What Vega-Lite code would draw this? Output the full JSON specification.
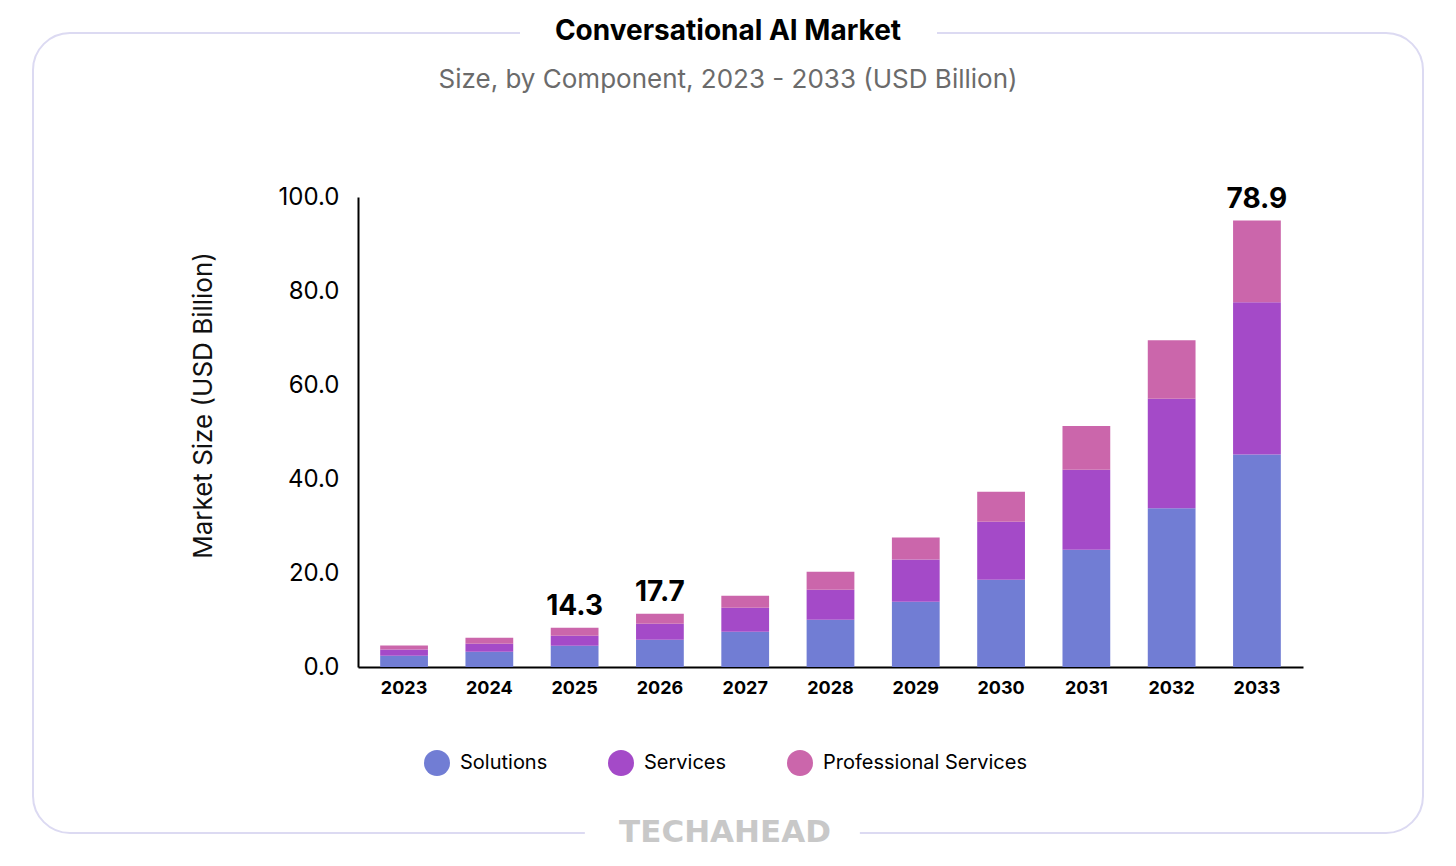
{
  "$schema": "https://vega.github.io/schema/vega-lite/v6.json",
  "autosize": {"type": "none"},
  "padding": {"left": 33, "top": 33, "right": 33, "bottom": 33},
  "width": 1390,
  "height": 800,
  "background": "white",
  "title": {
    "text": "Conversational AI Market",
    "subtitle": "Size, by Component, 2023 - 2033 (USD Billion)",
    "anchor": "middle",
    "frame": "group",
    "offset": -60,
    "font": "Inter",
    "fontSize": 28,
    "fontWeight": "bold",
    "color": "#000000",
    "subtitleFont": "Inter",
    "subtitleFontSize": 26,
    "subtitleColor": "#6b6b6b",
    "subtitlePadding": 21
  },
  "config": {
    "font": "Inter",
    "view": {
      "stroke": "#dcdaf2",
      "strokeWidth": 2,
      "cornerRadius": 37,
      "strokeDash": [450, 417, 1817.2, 275, 1357.3, 0]
    }
  },
  "data": {
    "values": [
      {"year": "2023", "component": "Solutions", "value": 2.4},
      {"year": "2023", "component": "Services", "value": 1.3},
      {"year": "2023", "component": "Professional Services", "value": 0.85},
      {"year": "2024", "component": "Solutions", "value": 3.25},
      {"year": "2024", "component": "Services", "value": 1.7},
      {"year": "2024", "component": "Professional Services", "value": 1.27},
      {"year": "2025", "component": "Solutions", "value": 4.5},
      {"year": "2025", "component": "Services", "value": 2.15},
      {"year": "2025", "component": "Professional Services", "value": 1.7, "label": "14.3"},
      {"year": "2026", "component": "Solutions", "value": 5.8},
      {"year": "2026", "component": "Services", "value": 3.4},
      {"year": "2026", "component": "Professional Services", "value": 2.13, "label": "17.7"},
      {"year": "2027", "component": "Solutions", "value": 7.5},
      {"year": "2027", "component": "Services", "value": 5.1},
      {"year": "2027", "component": "Professional Services", "value": 2.55},
      {"year": "2028", "component": "Solutions", "value": 10.05},
      {"year": "2028", "component": "Services", "value": 6.4},
      {"year": "2028", "component": "Professional Services", "value": 3.83},
      {"year": "2029", "component": "Solutions", "value": 13.9},
      {"year": "2029", "component": "Services", "value": 8.95},
      {"year": "2029", "component": "Professional Services", "value": 4.7},
      {"year": "2030", "component": "Solutions", "value": 18.55},
      {"year": "2030", "component": "Services", "value": 12.35},
      {"year": "2030", "component": "Professional Services", "value": 6.4},
      {"year": "2031", "component": "Solutions", "value": 24.95},
      {"year": "2031", "component": "Services", "value": 17.0},
      {"year": "2031", "component": "Professional Services", "value": 9.35},
      {"year": "2032", "component": "Solutions", "value": 33.8},
      {"year": "2032", "component": "Services", "value": 23.3},
      {"year": "2032", "component": "Professional Services", "value": 12.4},
      {"year": "2033", "component": "Solutions", "value": 45.2},
      {"year": "2033", "component": "Services", "value": 32.4},
      {"year": "2033", "component": "Professional Services", "value": 17.4, "label": "78.9"}
    ]
  },
  "layer": [
    {
      "mark": {"type": "bar"},
      "encoding": {
        "x": {
          "field": "year",
          "type": "ordinal",
          "scale": {"range": [325, 1270], "paddingInner": 0.44, "paddingOuter": 0.26},
          "axis": {
            "orient": "bottom",
            "offset": -166,
            "title": null,
            "ticks": false,
            "labelAngle": 0,
            "domainColor": "#000000",
            "domainWidth": 2,
            "labelFont": "Inter",
            "labelFontSize": 18,
            "labelFontWeight": "bold",
            "labelColor": "#000000",
            "labelPadding": 12
          }
        },
        "y": {
          "field": "value",
          "type": "quantitative",
          "stack": "zero",
          "scale": {"domain": [0, 100], "range": [634, 164], "nice": false},
          "axis": {
            "orient": "left",
            "offset": -325,
            "values": [0, 20, 40, 60, 80, 100],
            "format": ".1f",
            "grid": false,
            "ticks": false,
            "domainColor": "#000000",
            "domainWidth": 2,
            "labelFont": "Inter",
            "labelFontSize": 24,
            "labelColor": "#000000",
            "labelPadding": 19,
            "title": "Market Size (USD Billion)",
            "titleFont": "Inter",
            "titleFontSize": 26,
            "titleFontWeight": "normal",
            "titleColor": "#111111",
            "titlePadding": 62,
            "titleY": 372
          }
        },
        "color": {
          "field": "component",
          "type": "nominal",
          "scale": {
            "domain": ["Solutions", "Services", "Professional Services"],
            "range": ["#717dd4", "#a44ac8", "#cb66ab"]
          },
          "legend": {
            "orient": "none",
            "legendX": 391,
            "legendY": 717,
            "direction": "horizontal",
            "symbolType": "circle",
            "symbolSize": 676,
            "symbolStrokeWidth": 0,
            "symbolOpacity": 1,
            "labelFont": "Inter",
            "labelFontSize": 20,
            "labelColor": "#000000",
            "labelOffset": 10,
            "labelLimit": 400,
            "columnPadding": 60,
            "title": "TECHAHEAD",
            "titleOrient": "bottom",
            "titleAnchor": "middle",
            "titleLimit": 600,
            "titleFont": "DejaVu Sans",
            "titleFontSize": 31,
            "titleFontWeight": "bold",
            "titleColor": "#c8c8c8",
            "titlePadding": 42
          }
        },
        "order": {"value": null}
      }
    },
    {
      "transform": [
        {"joinaggregate": [{"op": "sum", "field": "value", "as": "total"}], "groupby": ["year"]},
        {"filter": "isValid(datum.label)"}
      ],
      "mark": {"type": "text", "baseline": "bottom", "dy": -7, "font": "Inter", "fontSize": 28, "fontWeight": "bold", "color": "#000000"},
      "encoding": {
        "x": {"field": "year", "type": "ordinal"},
        "y": {"field": "total", "type": "quantitative"},
        "text": {"field": "label"}
      }
    }
  ]
}
